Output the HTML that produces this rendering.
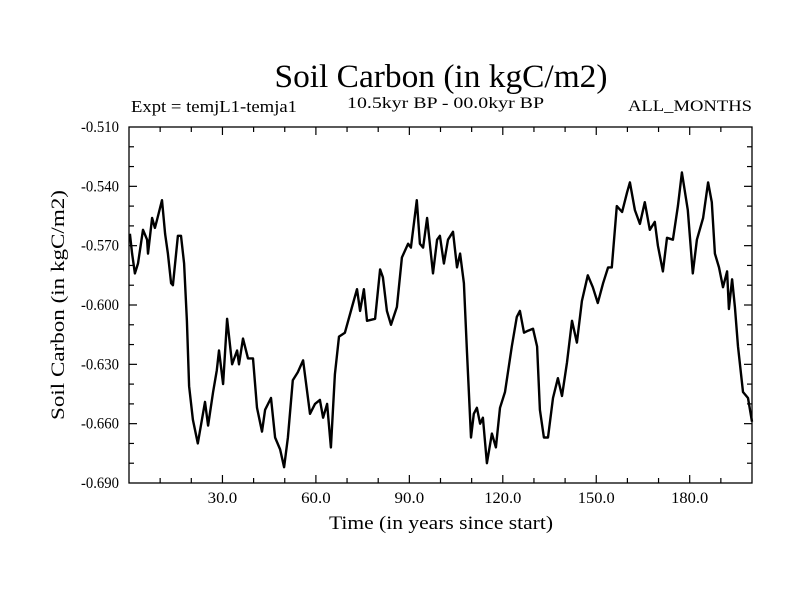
<!DOCTYPE html>
<html><head><meta charset="utf-8"><style>
html,body{margin:0;padding:0;background:#fff;}
svg text{font-family:"Liberation Serif","Times New Roman",serif;fill:#000;}
</style></head><body>
<svg id="chart" width="800" height="600" viewBox="0 0 800 600" font-family="Liberation Serif, serif">
<text x="441" y="87" font-size="33" text-anchor="middle" textLength="333" lengthAdjust="spacingAndGlyphs">Soil Carbon (in kgC/m2)</text>
<text x="131" y="112" font-size="17" textLength="166" lengthAdjust="spacingAndGlyphs">Expt = temjL1-temja1</text>
<text x="347" y="108" font-size="16" textLength="197" lengthAdjust="spacingAndGlyphs">10.5kyr BP - 00.0kyr BP</text>
<text x="752" y="111" font-size="16" text-anchor="end" textLength="124" lengthAdjust="spacingAndGlyphs">ALL_MONTHS</text>
<text transform="translate(64,305) rotate(-90)" font-size="19" text-anchor="middle" textLength="230" lengthAdjust="spacingAndGlyphs">Soil Carbon (in kgC/m2)</text>
<text x="441" y="529" font-size="19" text-anchor="middle" textLength="224" lengthAdjust="spacingAndGlyphs">Time (in years since start)</text>
<g id="axes"></g>
<g id="series"></g>
<rect x="129" y="127" width="623" height="356" fill="none" stroke="#000" stroke-width="1.3"/>
</svg>
<script>
const years = [0.3,1.0,1.9,2.9,4.5,5.8,6.1,7.4,8.3,9.0,10.6,11.6,12.5,13.5,14.1,15.7,16.7,17.7,18.6,19.3,20.5,22.1,24.4,25.4,27.0,28.2,28.9,30.2,31.5,33.1,34.7,35.3,36.6,38.2,39.8,41.1,42.7,43.7,45.6,46.9,48.5,49.8,51.0,52.6,54.2,55.9,58.1,59.7,61.3,62.3,63.6,64.8,66.1,67.4,69.3,71.6,73.2,74.2,75.4,76.4,79.0,80.6,81.5,82.8,84.1,86.0,87.6,89.6,90.5,92.4,93.4,94.4,95.7,97.6,98.9,99.8,101.1,102.4,104.0,105.3,106.3,107.5,108.5,109.8,110.7,111.7,112.7,113.6,114.9,116.5,117.8,119.1,120.7,122.9,124.5,125.5,126.8,128.1,129.7,131.0,131.9,133.2,134.5,136.1,137.7,139.0,140.6,142.2,143.8,145.4,147.3,148.9,150.5,152.2,153.8,155.0,156.6,158.3,159.9,160.8,162.4,164.0,165.6,167.2,168.8,169.8,171.4,172.7,174.6,176.2,177.5,179.4,181.0,182.3,184.3,185.9,187.1,188.1,189.4,190.7,192.0,192.6,193.6,194.5,195.5,197.1,198.7,200.0];
const soilCarbon = [-0.564,-0.574,-0.584,-0.579,-0.562,-0.567,-0.574,-0.556,-0.561,-0.557,-0.547,-0.564,-0.574,-0.589,-0.590,-0.565,-0.565,-0.579,-0.608,-0.641,-0.658,-0.670,-0.649,-0.661,-0.644,-0.633,-0.623,-0.640,-0.607,-0.630,-0.623,-0.630,-0.617,-0.627,-0.627,-0.652,-0.664,-0.653,-0.647,-0.667,-0.673,-0.682,-0.667,-0.638,-0.634,-0.628,-0.655,-0.650,-0.648,-0.657,-0.650,-0.672,-0.635,-0.616,-0.614,-0.601,-0.592,-0.603,-0.592,-0.608,-0.607,-0.582,-0.586,-0.603,-0.610,-0.601,-0.576,-0.569,-0.571,-0.547,-0.569,-0.571,-0.556,-0.584,-0.567,-0.565,-0.579,-0.567,-0.563,-0.581,-0.574,-0.589,-0.624,-0.667,-0.655,-0.652,-0.660,-0.657,-0.680,-0.665,-0.672,-0.652,-0.644,-0.621,-0.606,-0.603,-0.614,-0.613,-0.612,-0.621,-0.653,-0.667,-0.667,-0.647,-0.637,-0.646,-0.629,-0.608,-0.619,-0.598,-0.585,-0.591,-0.599,-0.589,-0.581,-0.581,-0.550,-0.553,-0.543,-0.538,-0.552,-0.559,-0.548,-0.562,-0.558,-0.570,-0.583,-0.566,-0.567,-0.550,-0.533,-0.552,-0.584,-0.567,-0.556,-0.538,-0.548,-0.574,-0.581,-0.591,-0.583,-0.602,-0.587,-0.601,-0.621,-0.644,-0.647,-0.659];
const xTickValues = [30,60,90,120,150,180];
const xTickLabels = ["30.0","60.0","90.0","120.0","150.0","180.0"];
const yTickValues = [-0.51,-0.54,-0.57,-0.60,-0.63,-0.66,-0.69];
const yTickLabels = ["-0.510","-0.540","-0.570","-0.600","-0.630","-0.660","-0.690"];

const NS="http://www.w3.org/2000/svg";
const L=129,R=752,T=127,B=483,X0=0,X1=200,Y0=-0.69,Y1=-0.51;
function xs(v){return L+(v-X0)/(X1-X0)*(R-L);}
function ys(v){return B-(v-Y0)/(Y1-Y0)*(B-T);}
const axes=document.getElementById('axes');
function line(x1,y1,x2,y2,name){
  const l=document.createElementNS(NS,'line');
  l.setAttribute('x1',x1);l.setAttribute('y1',y1);l.setAttribute('x2',x2);l.setAttribute('y2',y2);
  l.setAttribute('stroke','#000');l.setAttribute('stroke-width','1.2');
  
  
  axes.appendChild(l);
}
function label(x,y,txt,anchor,name,len){
  const t=document.createElementNS(NS,'text');
  t.setAttribute('x',x);t.setAttribute('y',y);t.setAttribute('font-size','16');
  t.setAttribute('text-anchor',anchor);t.textContent=txt;
  t.setAttribute('textLength',len);t.setAttribute('lengthAdjust','spacingAndGlyphs');
  
  
  axes.appendChild(t);
}
for(let v=10;v<X1;v+=10){
  const x=xs(v),major=v%30===0,len=major?8:5;
  line(x,B,x,B-len,'x-tick');line(x,T,x,T+len,'x-tick-top');
}
xTickValues.forEach((v,i)=>label(xs(v),503,xTickLabels[i],'middle','x-tick-label',xTickLabels[i].length*7.4));
for(let k=0;k<=18;k++){
  const v=Y0+k*0.01,y=ys(v),major=k%3===0,len=major?8:5;
  if(k>0&&k<18){line(L,y,L+len,y,'y-tick');line(R,y,R-len,y,'y-tick-right');}
}
yTickValues.forEach((v,i)=>label(119,ys(v)+5,yTickLabels[i],'end','y-tick-label',38));
const p=document.createElementNS(NS,'polyline');
p.setAttribute('points',years.map((v,i)=>xs(v).toFixed(1)+','+ys(soilCarbon[i]).toFixed(1)).join(' '));
p.setAttribute('fill','none');p.setAttribute('stroke','#000');p.setAttribute('stroke-width','2.4');p.setAttribute('stroke-linejoin','round');


document.getElementById('series').appendChild(p);
</script>
</body></html>
